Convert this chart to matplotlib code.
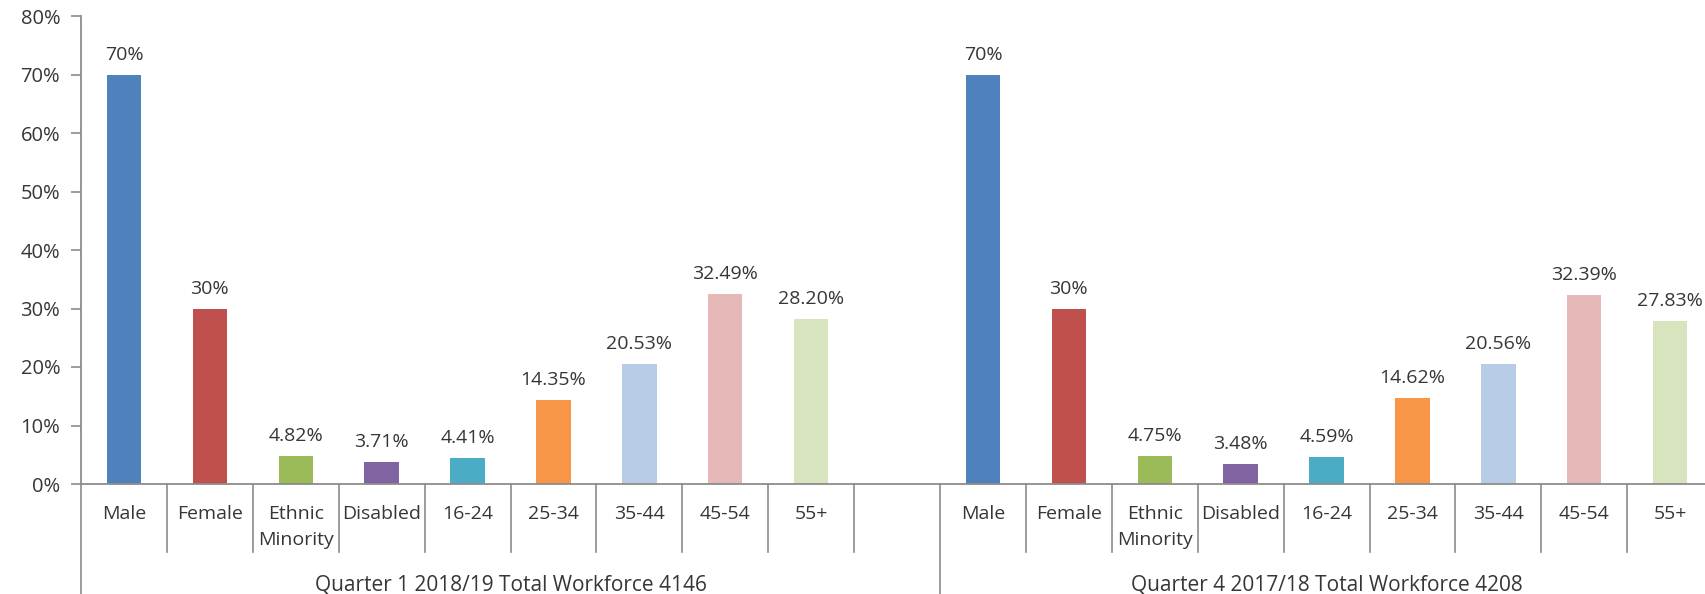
import matplotlib

matplotlib.use("Agg")
import matplotlib.pyplot as plt
from matplotlib.ticker import FuncFormatter

plt.rcParams["font.family"] = ["Open Sans", "DejaVu Sans"]

# Data (percent of workforce)
categories = ["Male", "Female", "Ethnic\nMinority", "Disabled",
              "16-24", "25-34", "35-44", "45-54", "55+"]
q1_values = [70, 30, 4.82, 3.71, 4.41, 14.35, 20.53, 32.49, 28.20]
q4_values = [70, 30, 4.75, 3.48, 4.59, 14.62, 20.56, 32.39, 27.83]
group_labels = ["Quarter 1 2018/19 Total Workforce 4146",
                "Quarter 4 2017/18 Total Workforce 4208"]
bar_colors = ["#4F81BD", "#C0504D", "#9BBB59", "#8064A2", "#4BACC6",
              "#F79646", "#B7CCE6", "#E6B9B8", "#D7E4BD"]

TEXT = "#363636"
AXIS = "#8C8C8C"
W, H = 1706, 594

fig = plt.figure(figsize=(W / 100, H / 100), dpi=100)
# axes in pixel layout: left spine at x=81, zero line at y=484, 80% at y=16
n_slots = 19
slot_px = 85.9
ax = fig.add_axes([81 / W, (H - 484) / H, n_slots * slot_px / W, 468 / H])

# group 1 occupies slots 0..9 (slot 9 empty), group 2 slots 10..18
pos1 = list(range(len(categories)))
pos2 = [p + 10 for p in pos1]


def fmt(v):
    return f"{v:.0f}%" if v == round(v) else f"{v:.2f}%"


for pos, vals in ((pos1, q1_values), (pos2, q4_values)):
    ax.bar(pos, [v / 100 for v in vals], width=0.4, color=bar_colors, zorder=2)
    for p, v in zip(pos, vals):
        ax.annotate(fmt(v), (p, v / 100), xytext=(0, 15), textcoords="offset pixels",
                    ha="center", va="baseline", fontsize=14, color=TEXT)

ax.set_xlim(-0.5, n_slots - 0.5)
ax.set_ylim(0, 0.8)
ax.set_yticks([i / 10 for i in range(9)])
ax.yaxis.set_major_formatter(FuncFormatter(lambda y, _: f"{y * 100:.0f}%"))
ax.tick_params(axis="y", direction="out", length=7, width=1.2, color=AXIS,
               labelsize=14.5, labelcolor=TEXT, pad=8)
ax.set_xticks([])
for s in ("top", "right"):
    ax.spines[s].set_visible(False)
for s in ("left", "bottom"):
    ax.spines[s].set_color(AXIS)
    ax.spines[s].set_linewidth(1.3)

# category table under the axis (x in data units, y in axes fraction)
tr = ax.get_xaxis_transform()
px = 1 / 468
short_y = -68 * px
long_y = -112 * px
for b in range(n_slots + 1):
    x = b - 0.5
    y_end = long_y if b in (0, 10) else short_y
    ax.plot([x, x], [0, y_end], transform=tr, color=AXIS, lw=1.2, clip_on=False)

for pos in (pos1, pos2):
    for p, c in zip(pos, categories):
        for i, line in enumerate(c.split("\n")):
            ax.annotate(line, (p, 0), xycoords=tr, xytext=(0, -35 - 26 * i),
                        textcoords="offset pixels", ha="center", va="baseline",
                        fontsize=14, color=TEXT, annotation_clip=False)

for gx, label in zip((4.5, 14), group_labels):
    ax.annotate(label, (gx, 0), xycoords=tr, xytext=(0, -106),
                textcoords="offset pixels", ha="center", va="baseline",
                fontsize=15, color=TEXT, annotation_clip=False)

fig.savefig("out.png", dpi=100, facecolor="white")
